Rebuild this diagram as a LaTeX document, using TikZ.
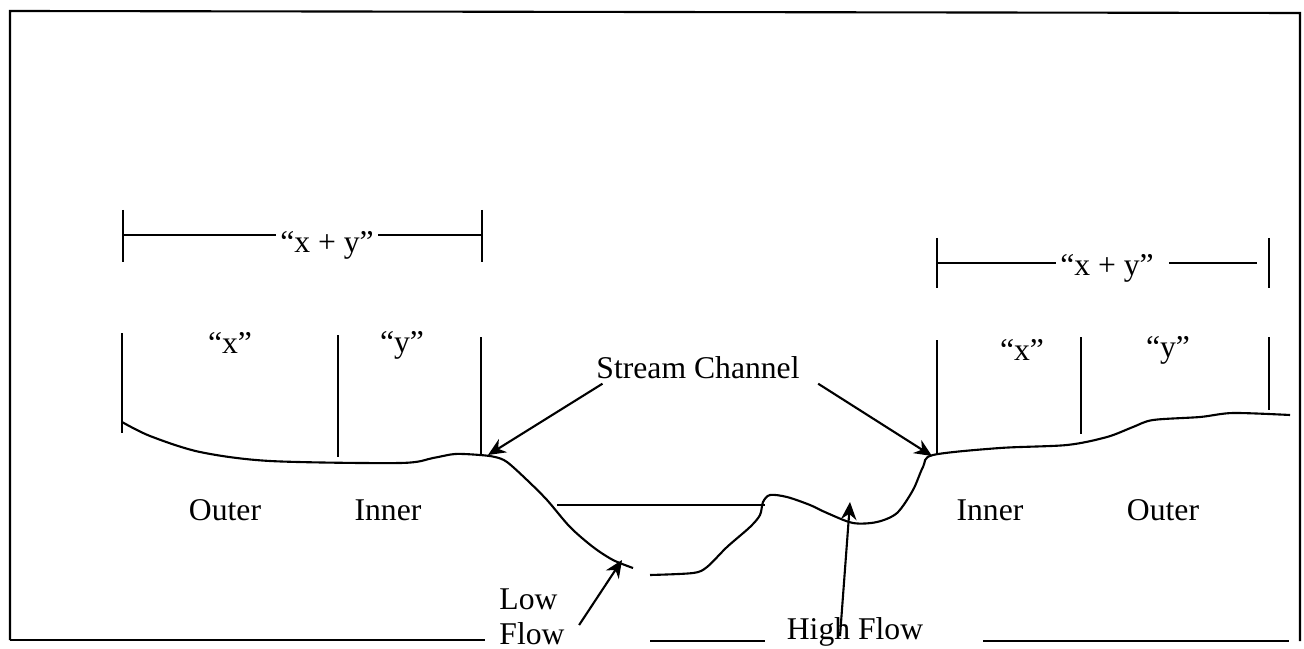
\documentclass[tikz,border=0pt]{standalone}
\usepackage{fontspec}
\setmainfont{Liberation Serif}
\usetikzlibrary{arrows.meta}
\begin{document}
\begin{tikzpicture}[
    x=0.01cm, y=-0.01cm, % one unit per pixel of the scan
    line width=0.6pt,
    font=\fontsize{9pt}{10pt}\selectfont,
    word/.style={inner sep=1pt},
    pointer/.style={->, >={Stealth[length=5pt, width=4.4pt]}},
  ]
    \useasboundingbox (0,0) rectangle (1304,649);

    % Frame, open at the bottom for the flow labels
    \draw (10,640) -- (10,11) -- (1300,13) -- (1300,641);
    \draw (10,640) -- (485,640);
    \draw (650,641) -- (765,641);
    \draw (983,641) -- (1289,641);

    % Labels
    \node[word] (stream) at (698,368) {Stream Channel};
    \node[word, align=left] (low) at (532,617) {Low\\Flow};
    \node[word] (high) at (855,632) {High Flow};
    \node[word] (outerL) at (225,510) {Outer};
    \node[word] (innerL) at (388,510) {Inner};
    \node[word] (innerR) at (990,510) {Inner};
    \node[word] (outerR) at (1163,510) {Outer};
    \node[word] (xL) at (230,343) {“x”};
    \node[word] (yL) at (402,345) {“y”};
    \node[word] (xR) at (1022,350) {“x”};
    \node[word] (yR) at (1168,350) {“y”};
    \node[word] (xyL) at (327,245) {“x + y”};
    \node[word] (xyR) at (1107,268) {“x + y”};

    % Ground profile across the channel
    \draw plot[smooth, tension=0.5] coordinates {
      (122,422) (150,436) (200,452) (270,461) (400,463) (433,458)
      (455,454) (480,455) (495,457) (507,462) (527,480) (547,500)
      (570,527) (593,547) (613,560) (633,568)};
    \draw plot[smooth, tension=0.5] coordinates {
      (650,575) (693,573) (707,567) (727,547) (750,527) (760,515)
      (763,502) (770,495) (787,497) (810,505) (827,513) (853,523)
      (877,522) (897,513) (913,490) (923,467) (933,455) (1000,448)
      (1067,445) (1107,437) (1133,427) (1153,420) (1200,417)
      (1233,413) (1290,415)};
    % High water surface
    \draw (557,505) -- (765,505);

    % Zone limits
    \draw (122,333) -- (122,433);
    \draw (338,335) -- (338,457);
    \draw (481,337) -- (481,455);
    \draw (937,340) -- (937,455);
    \draw (1081,337) -- (1081,434);
    \draw (1269,337) -- (1269,410);

    % Width of the "x + y" band on each side
    \coordinate (dimL1) at (123,235);
    \coordinate (dimL2) at (482,235);
    \coordinate (dimR1) at (937,263);
    \coordinate (dimR2) at (1257,263);
    \draw (123,210) -- (123,262);
    \draw (482,210) -- (482,262);
    \draw (937,238) -- (937,288);
    \draw (1269,238) -- (1269,288);
    \draw (dimL1) -- (xyL.west |- dimL1);
    \draw (xyL.east |- dimL2) -- (dimL2);
    \draw (dimR1) -- (xyR.west |- dimR1);
    \draw ([xshift=3pt]xyR.east |- dimR2) -- (dimR2);

    % Pointers onto the profile
    \coordinate (bankL) at (488,455);
    \coordinate (bankR) at (932,456);
    \coordinate (lowpt) at (622,560);
    \coordinate (highpt) at (850,502);
    \draw[pointer] ([xshift=3pt]stream.south west) -- (bankL);
    \draw[pointer] ([xshift=4pt]stream.south east) -- (bankR);
    \draw[pointer] ([shift={(10,8)}]low.east) -- (lowpt);
    \draw[pointer] ([shift={(-15,4)}]high.center) -- (highpt);
  \end{tikzpicture}
\end{document}
